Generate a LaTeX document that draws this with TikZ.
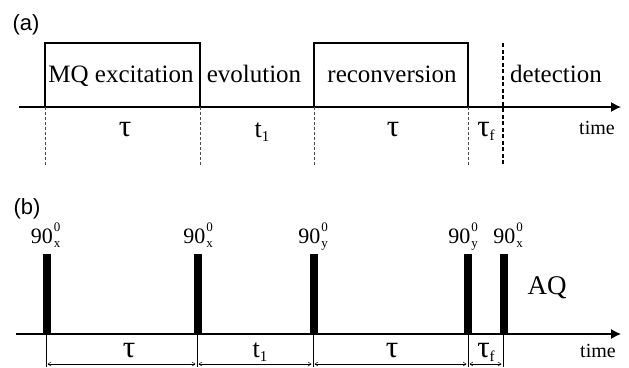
\documentclass[tikz,border=0pt]{standalone}
\usepackage{fontspec}
\setmainfont{Liberation Serif}
\newfontfamily\panelfont{Liberation Sans}
\usetikzlibrary{arrows.meta}
\newcommand{\fsz}[1]{\fontsize{#1}{#1}\selectfont}
\newcommand{\pulselab}[1]{90\kern1pt\makebox[0pt][l]{\raisebox{12pt}{\fsz{13}0}}{\raisebox{-4pt}{\fsz{13}#1}}}
\newcommand{\sublab}[2]{#1{\raisebox{-4pt}{\fsz{15}#2}}}
\tikzset{
  timeaxis/.style={line width=1.2pt,-{Latex[length=10pt,width=10pt]}},
  blockbox/.style={line width=1.4pt},
  marker/.style={dashed,dash pattern=on 3pt off 2pt,black!70},
  boxtext/.style={anchor=base,font=\fsz{25}},
  durtext/.style={anchor=base,font=\fsz{26}},
  tautext/.style={anchor=base,font=\fsz{31}},
  timetext/.style={anchor=base,font=\fsz{20}},
  dimarrow/.style={line width=0.5pt,{Straight Barb[length=3pt,width=4pt]}-{Straight Barb[length=3pt,width=4pt]}}
}
\begin{document}
\begin{tikzpicture}[x=1pt,y=-1pt]
\useasboundingbox (0,0) rectangle (629,367);
% (a) block scheme
\node[font=\panelfont\fsz{22}] (lbla) at (26,25) {(a)};
\draw[timeaxis] (19,107) -- (621,107);
\draw[blockbox] (45,107) rectangle (200,43);
\draw[blockbox] (314,107) rectangle (468,43);
\foreach \x in {45,200,314,468}
  \draw[marker] (\x,107) -- (\x,165);
\draw[line width=1.4pt,dash pattern=on 4pt off 2.5pt] (503,43) -- (503,165);
\node[boxtext] (mq) at (121,82) {MQ excitation};
\node[boxtext] (evo) at (254,82) {evolution};
\node[boxtext] (rec) at (392,82) {reconversion};
\node[boxtext] (det) at (556,82) {detection};
\node[tautext] (ta1) at (125,136) {τ};
\node[durtext] (ta2) at (262,137) {\sublab{t}{1}};
\node[tautext] (ta3) at (393,136) {τ};
\node[tautext] (ta4) at (486,136) {\sublab{τ}{f}};
\node[timetext] (tma) at (597,134) {time};
% (b) pulse sequence
\node[font=\panelfont\fsz{22}] (lblb) at (27,209) {(b)};
\draw[timeaxis] (16,334) -- (621,334);
\foreach \x/\lx/\s [count=\i] in {47/45.5/x,198/198/x,314/313/y,468/463/y,504/508/x} {
  \fill (\x-4,254) rectangle (\x+4,334);
  \node[anchor=base,font=\fsz{22}] (p\i) at (\lx,243) {\pulselab{\s}};
}
\node[anchor=base,font=\fsz{27}] (aq) at (547,294) {AQ};
\foreach \x [count=\i] in {46,197,313,468,503} {
  \draw[line width=0.6pt] (\x,334) -- (\x,367);
  \coordinate (d\i) at (\x,364);
}
\foreach \a/\b in {1/2,2/3,3/4,4/5}
  \draw[dimarrow] ([xshift=1.5pt]d\a) -- ([xshift=-1.5pt]d\b);
\node[tautext] (tb1) at (129,357) {τ};
\node[durtext] (tb2) at (260,357) {\sublab{t}{1}};
\node[tautext] (tb3) at (392,357) {τ};
\node[tautext] (tb4) at (486,357) {\sublab{τ}{f}};
\node[timetext] (tmb) at (598,357) {time};
\end{tikzpicture}
\end{document}
